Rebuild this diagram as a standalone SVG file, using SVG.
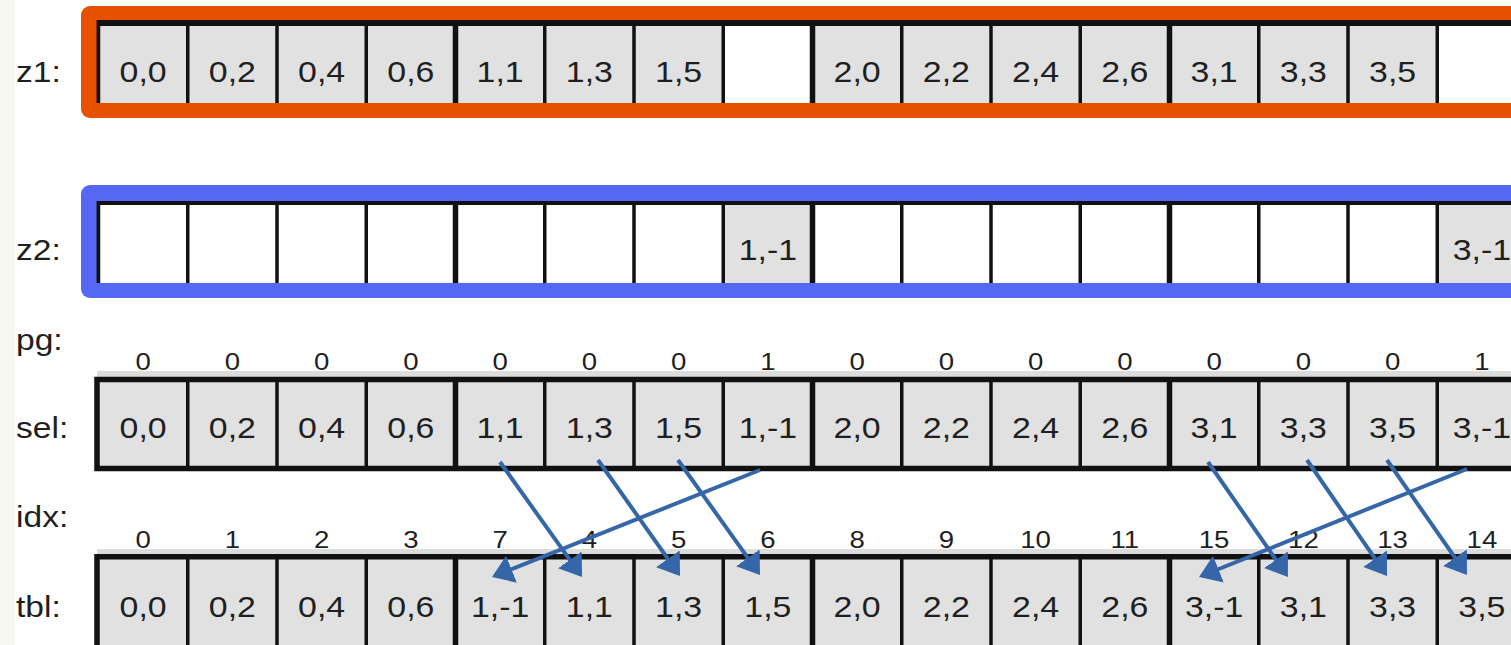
<svg xmlns="http://www.w3.org/2000/svg" width="1511" height="645" viewBox="0 0 1511 645">
  <style>
    text { font-family: "Liberation Sans", Arial, Helvetica, sans-serif; fill: #1f1f1f; transform-box: fill-box; }
    .lbl { font-size: 30px; transform-origin: left center; transform: scaleX(1.12); }
    .val { font-size: 30px; text-anchor: middle; transform-origin: center; transform: scaleX(1.13); }
    .num { font-size: 23px; text-anchor: middle; transform-origin: center; transform: scaleX(1.2); }
    .cell { fill: #e1e1e1; }
    .empty { fill: #ffffff; }
    .thin { stroke: #111; stroke-width: 3.5; }
    .thick { stroke: #111; stroke-width: 5.5; }
    .frame { fill: none; stroke: #111; stroke-width: 5.5; }
    .shade { fill: #dcdcdc; }
    .arrow { stroke: #3566a8; stroke-width: 4; fill: none; marker-end: url(#head); }
  </style>
  <defs>
    <marker id="head" markerUnits="userSpaceOnUse" markerWidth="21" markerHeight="29" viewBox="0 0 21 29" refX="17" refY="14.5" orient="auto">
      <path d="M0,0 L21,14.5 L0,29 Z" fill="#3566a8"/>
    </marker>
  </defs>

  <!-- page margin strip -->
  <rect x="0" y="0" width="15" height="645" fill="#f7f7f1"/>
  <rect x="15" y="0" width="1496" height="645" fill="#ffffff"/>

  <!-- row labels -->
  <g id="labels">
    <text class="lbl" x="16" y="82">z1:</text>
    <text class="lbl" x="16" y="260">z2:</text>
    <text class="lbl" x="16" y="350">pg:</text>
    <text class="lbl" x="16" y="438">sel:</text>
    <text class="lbl" x="16" y="527">idx:</text>
    <text class="lbl" x="16" y="617">tbl:</text>
  </g>

  <!-- z1: orange-framed register -->
  <g id="z1">
    <rect x="81" y="6" width="1480" height="112" rx="9" fill="#e65100"/>
    <rect x="96.75" y="20" width="1460" height="83" fill="#111"/>
    <g>
      <rect class="cell" x="98.5" y="26" width="89.25" height="77"/>
      <rect class="cell" x="187.75" y="26" width="89.25" height="77"/>
      <rect class="cell" x="277" y="26" width="89.25" height="77"/>
      <rect class="cell" x="366.25" y="26" width="89.25" height="77"/>
      <rect class="cell" x="455.5" y="26" width="89.25" height="77"/>
      <rect class="cell" x="544.75" y="26" width="89.25" height="77"/>
      <rect class="cell" x="634" y="26" width="89.25" height="77"/>
      <rect class="empty" x="723.25" y="26" width="89.25" height="77"/>
      <rect class="cell" x="812.5" y="26" width="89.25" height="77"/>
      <rect class="cell" x="901.75" y="26" width="89.25" height="77"/>
      <rect class="cell" x="991" y="26" width="89.25" height="77"/>
      <rect class="cell" x="1080.25" y="26" width="89.25" height="77"/>
      <rect class="cell" x="1169.5" y="26" width="89.25" height="77"/>
      <rect class="cell" x="1258.75" y="26" width="89.25" height="77"/>
      <rect class="cell" x="1348" y="26" width="89.25" height="77"/>
      <rect class="empty" x="1437.25" y="26" width="89.25" height="77"/>
    </g>
    <g>
      <line class="thin" x1="98.5" y1="20" x2="98.5" y2="103"/>
      <line class="thin" x1="187.75" y1="20" x2="187.75" y2="103"/>
      <line class="thin" x1="277" y1="20" x2="277" y2="103"/>
      <line class="thin" x1="366.25" y1="20" x2="366.25" y2="103"/>
      <line class="thick" x1="455.5" y1="20" x2="455.5" y2="103"/>
      <line class="thin" x1="544.75" y1="20" x2="544.75" y2="103"/>
      <line class="thin" x1="634" y1="20" x2="634" y2="103"/>
      <line class="thin" x1="723.25" y1="20" x2="723.25" y2="103"/>
      <line class="thick" x1="812.5" y1="20" x2="812.5" y2="103"/>
      <line class="thin" x1="901.75" y1="20" x2="901.75" y2="103"/>
      <line class="thin" x1="991" y1="20" x2="991" y2="103"/>
      <line class="thin" x1="1080.25" y1="20" x2="1080.25" y2="103"/>
      <line class="thick" x1="1169.5" y1="20" x2="1169.5" y2="103"/>
      <line class="thin" x1="1258.75" y1="20" x2="1258.75" y2="103"/>
      <line class="thin" x1="1348" y1="20" x2="1348" y2="103"/>
      <line class="thin" x1="1437.25" y1="20" x2="1437.25" y2="103"/>
    </g>
    <g>
      <text class="val" x="143.1" y="82">0,0</text>
      <text class="val" x="232.4" y="82">0,2</text>
      <text class="val" x="321.6" y="82">0,4</text>
      <text class="val" x="410.9" y="82">0,6</text>
      <text class="val" x="500.1" y="82">1,1</text>
      <text class="val" x="589.4" y="82">1,3</text>
      <text class="val" x="678.6" y="82">1,5</text>
      <text class="val" x="857.1" y="82">2,0</text>
      <text class="val" x="946.4" y="82">2,2</text>
      <text class="val" x="1035.6" y="82">2,4</text>
      <text class="val" x="1124.9" y="82">2,6</text>
      <text class="val" x="1214.1" y="82">3,1</text>
      <text class="val" x="1303.4" y="82">3,3</text>
      <text class="val" x="1392.6" y="82">3,5</text>
    </g>
  </g>

  <!-- z2: blue-framed register -->
  <g id="z2">
    <rect x="81" y="185" width="1480" height="113" rx="9" fill="#5468f4"/>
    <rect x="96.75" y="201" width="1460" height="82" fill="#111"/>
    <g>
      <rect class="empty" x="98.5" y="205" width="89.25" height="78"/>
      <rect class="empty" x="187.75" y="205" width="89.25" height="78"/>
      <rect class="empty" x="277" y="205" width="89.25" height="78"/>
      <rect class="empty" x="366.25" y="205" width="89.25" height="78"/>
      <rect class="empty" x="455.5" y="205" width="89.25" height="78"/>
      <rect class="empty" x="544.75" y="205" width="89.25" height="78"/>
      <rect class="empty" x="634" y="205" width="89.25" height="78"/>
      <rect class="cell" x="723.25" y="205" width="89.25" height="78"/>
      <rect class="empty" x="812.5" y="205" width="89.25" height="78"/>
      <rect class="empty" x="901.75" y="205" width="89.25" height="78"/>
      <rect class="empty" x="991" y="205" width="89.25" height="78"/>
      <rect class="empty" x="1080.25" y="205" width="89.25" height="78"/>
      <rect class="empty" x="1169.5" y="205" width="89.25" height="78"/>
      <rect class="empty" x="1258.75" y="205" width="89.25" height="78"/>
      <rect class="empty" x="1348" y="205" width="89.25" height="78"/>
      <rect class="cell" x="1437.25" y="205" width="89.25" height="78"/>
    </g>
    <g>
      <line class="thin" x1="98.5" y1="201" x2="98.5" y2="283"/>
      <line class="thin" x1="187.75" y1="201" x2="187.75" y2="283"/>
      <line class="thin" x1="277" y1="201" x2="277" y2="283"/>
      <line class="thin" x1="366.25" y1="201" x2="366.25" y2="283"/>
      <line class="thick" x1="455.5" y1="201" x2="455.5" y2="283"/>
      <line class="thin" x1="544.75" y1="201" x2="544.75" y2="283"/>
      <line class="thin" x1="634" y1="201" x2="634" y2="283"/>
      <line class="thin" x1="723.25" y1="201" x2="723.25" y2="283"/>
      <line class="thick" x1="812.5" y1="201" x2="812.5" y2="283"/>
      <line class="thin" x1="901.75" y1="201" x2="901.75" y2="283"/>
      <line class="thin" x1="991" y1="201" x2="991" y2="283"/>
      <line class="thin" x1="1080.25" y1="201" x2="1080.25" y2="283"/>
      <line class="thick" x1="1169.5" y1="201" x2="1169.5" y2="283"/>
      <line class="thin" x1="1258.75" y1="201" x2="1258.75" y2="283"/>
      <line class="thin" x1="1348" y1="201" x2="1348" y2="283"/>
      <line class="thin" x1="1437.25" y1="201" x2="1437.25" y2="283"/>
    </g>
    <g>
      <text class="val" x="767.9" y="260">1,-1</text>
      <text class="val" x="1481.9" y="260">3,-1</text>
    </g>
  </g>

  <!-- pg: page bits above sel -->
  <g id="pg">
    <text class="num" x="143.1" y="370">0</text>
    <text class="num" x="232.4" y="370">0</text>
    <text class="num" x="321.6" y="370">0</text>
    <text class="num" x="410.9" y="370">0</text>
    <text class="num" x="500.1" y="370">0</text>
    <text class="num" x="589.4" y="370">0</text>
    <text class="num" x="678.6" y="370">0</text>
    <text class="num" x="767.9" y="370">1</text>
    <text class="num" x="857.1" y="370">0</text>
    <text class="num" x="946.4" y="370">0</text>
    <text class="num" x="1035.6" y="370">0</text>
    <text class="num" x="1124.9" y="370">0</text>
    <text class="num" x="1214.1" y="370">0</text>
    <text class="num" x="1303.4" y="370">0</text>
    <text class="num" x="1392.6" y="370">0</text>
    <text class="num" x="1481.9" y="370">1</text>
  </g>

  <!-- sel: merged selection -->
  <g id="sel">
    <rect class="shade" x="97" y="371" width="1420" height="7"/>
    <g>
      <rect class="cell" x="98.5" y="382" width="89.25" height="84"/>
      <rect class="cell" x="187.75" y="382" width="89.25" height="84"/>
      <rect class="cell" x="277" y="382" width="89.25" height="84"/>
      <rect class="cell" x="366.25" y="382" width="89.25" height="84"/>
      <rect class="cell" x="455.5" y="382" width="89.25" height="84"/>
      <rect class="cell" x="544.75" y="382" width="89.25" height="84"/>
      <rect class="cell" x="634" y="382" width="89.25" height="84"/>
      <rect class="cell" x="723.25" y="382" width="89.25" height="84"/>
      <rect class="cell" x="812.5" y="382" width="89.25" height="84"/>
      <rect class="cell" x="901.75" y="382" width="89.25" height="84"/>
      <rect class="cell" x="991" y="382" width="89.25" height="84"/>
      <rect class="cell" x="1080.25" y="382" width="89.25" height="84"/>
      <rect class="cell" x="1169.5" y="382" width="89.25" height="84"/>
      <rect class="cell" x="1258.75" y="382" width="89.25" height="84"/>
      <rect class="cell" x="1348" y="382" width="89.25" height="84"/>
      <rect class="cell" x="1437.25" y="382" width="89.25" height="84"/>
    </g>
    <g>
      <line class="thin" x1="187.75" y1="377" x2="187.75" y2="471"/>
      <line class="thin" x1="277" y1="377" x2="277" y2="471"/>
      <line class="thin" x1="366.25" y1="377" x2="366.25" y2="471"/>
      <line class="thick" x1="455.5" y1="377" x2="455.5" y2="471"/>
      <line class="thin" x1="544.75" y1="377" x2="544.75" y2="471"/>
      <line class="thin" x1="634" y1="377" x2="634" y2="471"/>
      <line class="thin" x1="723.25" y1="377" x2="723.25" y2="471"/>
      <line class="thick" x1="812.5" y1="377" x2="812.5" y2="471"/>
      <line class="thin" x1="901.75" y1="377" x2="901.75" y2="471"/>
      <line class="thin" x1="991" y1="377" x2="991" y2="471"/>
      <line class="thin" x1="1080.25" y1="377" x2="1080.25" y2="471"/>
      <line class="thick" x1="1169.5" y1="377" x2="1169.5" y2="471"/>
      <line class="thin" x1="1258.75" y1="377" x2="1258.75" y2="471"/>
      <line class="thin" x1="1348" y1="377" x2="1348" y2="471"/>
      <line class="thin" x1="1437.25" y1="377" x2="1437.25" y2="471"/>
    </g>
    <rect class="frame" x="97" y="379.5" width="1450" height="89"/>
    <g>
      <text class="val" x="143.1" y="438">0,0</text>
      <text class="val" x="232.4" y="438">0,2</text>
      <text class="val" x="321.6" y="438">0,4</text>
      <text class="val" x="410.9" y="438">0,6</text>
      <text class="val" x="500.1" y="438">1,1</text>
      <text class="val" x="589.4" y="438">1,3</text>
      <text class="val" x="678.6" y="438">1,5</text>
      <text class="val" x="767.9" y="438">1,-1</text>
      <text class="val" x="857.1" y="438">2,0</text>
      <text class="val" x="946.4" y="438">2,2</text>
      <text class="val" x="1035.6" y="438">2,4</text>
      <text class="val" x="1124.9" y="438">2,6</text>
      <text class="val" x="1214.1" y="438">3,1</text>
      <text class="val" x="1303.4" y="438">3,3</text>
      <text class="val" x="1392.6" y="438">3,5</text>
      <text class="val" x="1481.9" y="438">3,-1</text>
    </g>
  </g>

  <!-- idx: destination index of each selected entry -->
  <g id="idx">
    <text class="num" x="143.1" y="548">0</text>
    <text class="num" x="232.4" y="548">1</text>
    <text class="num" x="321.6" y="548">2</text>
    <text class="num" x="410.9" y="548">3</text>
    <text class="num" x="500.1" y="548">7</text>
    <text class="num" x="589.4" y="548">4</text>
    <text class="num" x="678.6" y="548">5</text>
    <text class="num" x="767.9" y="548">6</text>
    <text class="num" x="857.1" y="548">8</text>
    <text class="num" x="946.4" y="548">9</text>
    <text class="num" x="1035.6" y="548">10</text>
    <text class="num" x="1124.9" y="548">11</text>
    <text class="num" x="1214.1" y="548">15</text>
    <text class="num" x="1303.4" y="548">12</text>
    <text class="num" x="1392.6" y="548">13</text>
    <text class="num" x="1481.9" y="548">14</text>
  </g>

  <!-- tbl: reordered table -->
  <g id="tbl">
    <rect class="shade" x="97" y="549" width="1420" height="7"/>
    <g>
      <rect class="cell" x="98.5" y="559" width="89.25" height="90"/>
      <rect class="cell" x="187.75" y="559" width="89.25" height="90"/>
      <rect class="cell" x="277" y="559" width="89.25" height="90"/>
      <rect class="cell" x="366.25" y="559" width="89.25" height="90"/>
      <rect class="cell" x="455.5" y="559" width="89.25" height="90"/>
      <rect class="cell" x="544.75" y="559" width="89.25" height="90"/>
      <rect class="cell" x="634" y="559" width="89.25" height="90"/>
      <rect class="cell" x="723.25" y="559" width="89.25" height="90"/>
      <rect class="cell" x="812.5" y="559" width="89.25" height="90"/>
      <rect class="cell" x="901.75" y="559" width="89.25" height="90"/>
      <rect class="cell" x="991" y="559" width="89.25" height="90"/>
      <rect class="cell" x="1080.25" y="559" width="89.25" height="90"/>
      <rect class="cell" x="1169.5" y="559" width="89.25" height="90"/>
      <rect class="cell" x="1258.75" y="559" width="89.25" height="90"/>
      <rect class="cell" x="1348" y="559" width="89.25" height="90"/>
      <rect class="cell" x="1437.25" y="559" width="89.25" height="90"/>
    </g>
    <g>
      <line class="thin" x1="187.75" y1="554" x2="187.75" y2="650"/>
      <line class="thin" x1="277" y1="554" x2="277" y2="650"/>
      <line class="thin" x1="366.25" y1="554" x2="366.25" y2="650"/>
      <line class="thick" x1="455.5" y1="554" x2="455.5" y2="650"/>
      <line class="thin" x1="544.75" y1="554" x2="544.75" y2="650"/>
      <line class="thin" x1="634" y1="554" x2="634" y2="650"/>
      <line class="thin" x1="723.25" y1="554" x2="723.25" y2="650"/>
      <line class="thick" x1="812.5" y1="554" x2="812.5" y2="650"/>
      <line class="thin" x1="901.75" y1="554" x2="901.75" y2="650"/>
      <line class="thin" x1="991" y1="554" x2="991" y2="650"/>
      <line class="thin" x1="1080.25" y1="554" x2="1080.25" y2="650"/>
      <line class="thick" x1="1169.5" y1="554" x2="1169.5" y2="650"/>
      <line class="thin" x1="1258.75" y1="554" x2="1258.75" y2="650"/>
      <line class="thin" x1="1348" y1="554" x2="1348" y2="650"/>
      <line class="thin" x1="1437.25" y1="554" x2="1437.25" y2="650"/>
    </g>
    <rect class="frame" x="97" y="556.75" width="1450" height="120"/>
    <g>
      <text class="val" x="143.1" y="617">0,0</text>
      <text class="val" x="232.4" y="617">0,2</text>
      <text class="val" x="321.6" y="617">0,4</text>
      <text class="val" x="410.9" y="617">0,6</text>
      <text class="val" x="500.1" y="617">1,-1</text>
      <text class="val" x="589.4" y="617">1,1</text>
      <text class="val" x="678.6" y="617">1,3</text>
      <text class="val" x="767.9" y="617">1,5</text>
      <text class="val" x="857.1" y="617">2,0</text>
      <text class="val" x="946.4" y="617">2,2</text>
      <text class="val" x="1035.6" y="617">2,4</text>
      <text class="val" x="1124.9" y="617">2,6</text>
      <text class="val" x="1214.1" y="617">3,-1</text>
      <text class="val" x="1303.4" y="617">3,1</text>
      <text class="val" x="1392.6" y="617">3,3</text>
      <text class="val" x="1481.9" y="617">3,5</text>
    </g>
  </g>

  <!-- moves from sel slots to tbl slots -->
  <g id="connectors">
    <line class="arrow" x1="500" y1="462" x2="579.7" y2="573.7"/>
    <line class="arrow" x1="598" y1="460" x2="677.7" y2="572.7"/>
    <line class="arrow" x1="678" y1="460" x2="757.7" y2="571.7"/>
    <line class="arrow" x1="760" y1="470" x2="495.7" y2="575.5"/>
    <line class="arrow" x1="1208" y1="462" x2="1285.7" y2="573.7"/>
    <line class="arrow" x1="1307" y1="460" x2="1384.7" y2="572.7"/>
    <line class="arrow" x1="1387" y1="460" x2="1464.7" y2="571.7"/>
    <line class="arrow" x1="1467" y1="469" x2="1202.7" y2="575.5"/>
  </g>
</svg>
